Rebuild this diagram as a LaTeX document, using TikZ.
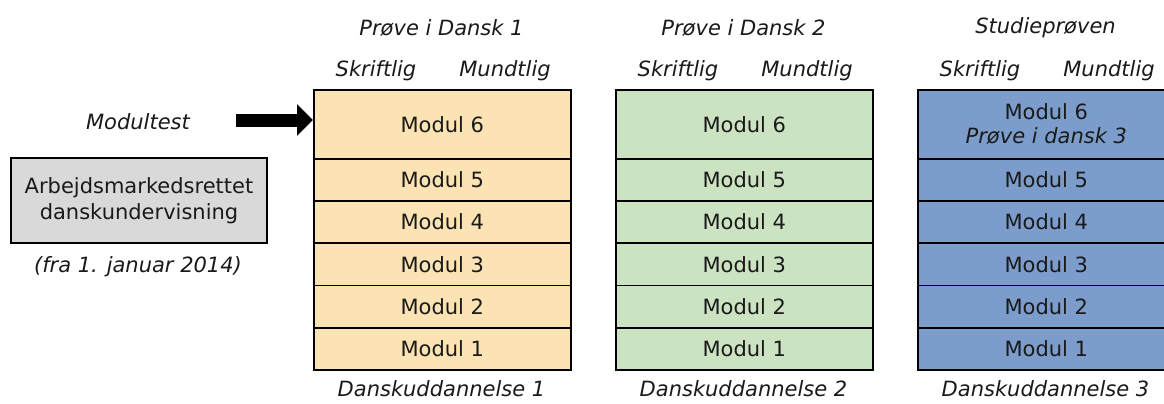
\documentclass[tikz,border=0pt]{standalone}
\usepackage{fontspec}
\setmainfont{DejaVu Sans}
\usetikzlibrary{arrows.meta}
\definecolor{peach}{HTML}{FCE3B4}
\definecolor{mint}{HTML}{CCE3C2}
\definecolor{steel}{HTML}{7C9DCB}
\definecolor{grayfill}{HTML}{D9D9D9}
\definecolor{txt}{HTML}{1A1A1A}
\tikzset{
  every node/.style={font=\fontsize{21}{26}\selectfont, text=txt},
  cell/.style={draw=black, line width=1.7pt, rectangle, minimum width=257pt, inner sep=0pt, anchor=north west, align=center},
  lbl/.style={font=\fontsize{21}{26}\selectfont\itshape, inner sep=0pt},
  graybox/.style={draw=black, line width=1.8pt, fill=grayfill, rectangle, minimum width=256pt, minimum height=85pt, align=center, inner sep=0pt},
  bigarrow/.style={line width=13pt, -{Triangle[length=16pt,width=31pt]}},
}
\begin{document}
\begin{tikzpicture}[x=1pt,y=-1pt]
\clip (0,0) rectangle (1164,404);
\fill[white] (0,0) rectangle (1164,404);
% columns
\foreach \c/\x/\col in {1/313/peach, 2/615/mint, 3/917/steel}{
  \node[cell, fill=\col, minimum height=69pt] (m\c6) at (\x,89) {};
  \node[cell, fill=\col, minimum height=42.2pt] (m\c5) at (\x,158) {Modul 5};
  \node[cell, fill=\col, minimum height=42.2pt] (m\c4) at (\x,200.2) {Modul 4};
  \node[cell, fill=\col, minimum height=42.2pt] (m\c3) at (\x,242.4) {Modul 3};
  \node[cell, fill=\col, minimum height=42.2pt] (m\c2) at (\x,284.6) {Modul 2};
  \node[cell, fill=\col, minimum height=42.2pt] (m\c1) at (\x,326.8) {Modul 1};
  \node[lbl] (skr\c) at (\x+63,71) {Skriftlig};
  \node[lbl] (mun\c) at (\x+192,71) {Mundtlig};
  \node[lbl] (bot\c) at (\x+128.5,389) {Danskuddannelse \c};
}
\node (t16) at (m16) {Modul 6};
\node (t26) at (m26) {Modul 6};
\node[align=center] (t36) at (m36) {Modul 6\\[-2pt]\itshape Prøve i dansk 3};
\node[lbl] (h1) at (441.5,28) {Prøve i Dansk 1};
\node[lbl] (h2) at (743.5,28) {Prøve i Dansk 2};
\node[lbl] (h3) at (1045.5,28) {Studieprøven};
% left side
\node[lbl] (mt) at (138,122) {Modultest};
\node[graybox] (amu) at (139,200.5) {Arbejdsmarkedsrettet\\danskundervisning};
\node[lbl] (fra) at (138,267) {(fra 1. januar 2014)};
\coordinate (arrstart) at (236,120);
\draw[bigarrow] (arrstart) -- (arrstart -| m16.west);
\end{tikzpicture}
\end{document}
